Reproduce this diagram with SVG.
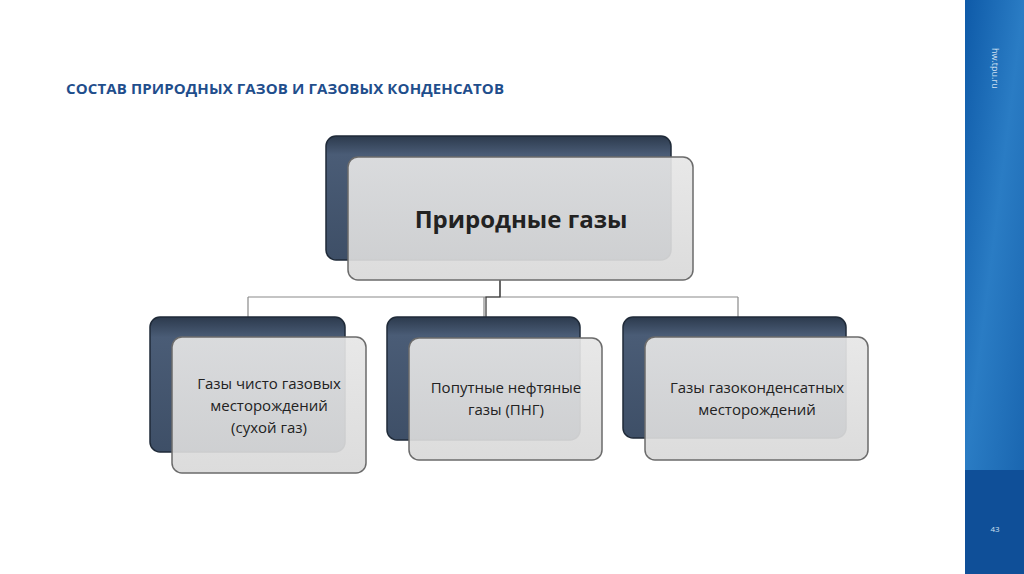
<svg xmlns="http://www.w3.org/2000/svg" width="1024" height="574" viewBox="0 0 1024 574">
<defs>
<linearGradient id="dk" x1="0" y1="0" x2="0" y2="1"><stop offset="0" stop-color="#2c3a4d"/><stop offset="0.15" stop-color="#4a5c76"/><stop offset="1" stop-color="#3e4f67"/></linearGradient>
<linearGradient id="lt" x1="0" y1="0" x2="0" y2="1"><stop offset="0" stop-color="#e6e6e6" stop-opacity="0.92"/><stop offset="1" stop-color="#d9d9d9" stop-opacity="0.92"/></linearGradient>
<linearGradient id="side" x1="0" y1="0" x2="1" y2="1"><stop offset="0" stop-color="#0e5aa8"/><stop offset="0.5" stop-color="#2a7cc4"/><stop offset="1" stop-color="#1a66b0"/></linearGradient>
</defs>
<style>
.dk{fill:url(#dk);stroke:#1f2a38;stroke-width:1.5}
.lt{fill:url(#lt);stroke:#6b6b6b;stroke-width:1.5}
.t{font-family:"Open Sans","Liberation Sans",sans-serif;fill:#222;text-anchor:middle}
.c{fill:none;stroke:#8a8a8a;stroke-width:1.2}
</style>
<rect width="1024" height="574" fill="#fff"/>
<rect x="965" y="0" width="59" height="470" fill="url(#side)"/>
<rect x="965" y="470" width="59" height="104" fill="#0f4f98"/>
<text x="0" y="0" transform="translate(992,48) rotate(90)" font-family="Open Sans,Liberation Sans,sans-serif" font-size="9" fill="#cfe0f2">hw.tpu.ru</text>
<text x="995" y="532" font-family="Open Sans,Liberation Sans,sans-serif" font-size="8" fill="#cfe0f2" text-anchor="middle">43</text>
<text x="66" y="94" font-family="Open Sans,Liberation Sans,sans-serif" font-size="15" font-weight="bold" fill="#1f4e8c" textLength="438">СОСТАВ ПРИРОДНЫХ ГАЗОВ И ГАЗОВЫХ КОНДЕНСАТОВ</text>
<g id="connectors">
<path class="c" d="M500 280V297M248 297H738M248 297V317M484 297V317M738 297V317"/>
<path d="M500 280V297H486V317" fill="none" stroke="#333" stroke-width="1.2"/>
</g>
<g id="root">
<rect class="dk" x="326" y="136" width="345" height="124" rx="10"/>
<rect class="lt" x="348" y="157" width="345" height="123" rx="10"/>
<text class="t" x="521" y="228" font-size="24" font-weight="bold" fill="#111">Природные газы</text>
</g>
<g id="n1">
<rect class="dk" x="150" y="317" width="195" height="135" rx="10"/>
<rect class="lt" x="172" y="337" width="194" height="136" rx="10"/>
<text class="t" font-size="15"><tspan x="269" y="389">Газы чисто газовых</tspan><tspan x="269" y="411">месторождений</tspan><tspan x="269" y="433">(сухой газ)</tspan></text>
</g>
<g id="n2">
<rect class="dk" x="387" y="317" width="193" height="123" rx="10"/>
<rect class="lt" x="409" y="338" width="193" height="122" rx="10"/>
<text class="t" font-size="15"><tspan x="506" y="393">Попутные нефтяные</tspan><tspan x="506" y="415">газы (ПНГ)</tspan></text>
</g>
<g id="n3">
<rect class="dk" x="623" y="317" width="223" height="121" rx="10"/>
<rect class="lt" x="645" y="337" width="223" height="123" rx="10"/>
<text class="t" font-size="15"><tspan x="757" y="393">Газы газоконденсатных</tspan><tspan x="757" y="415">месторождений</tspan></text>
</g>
</svg>
